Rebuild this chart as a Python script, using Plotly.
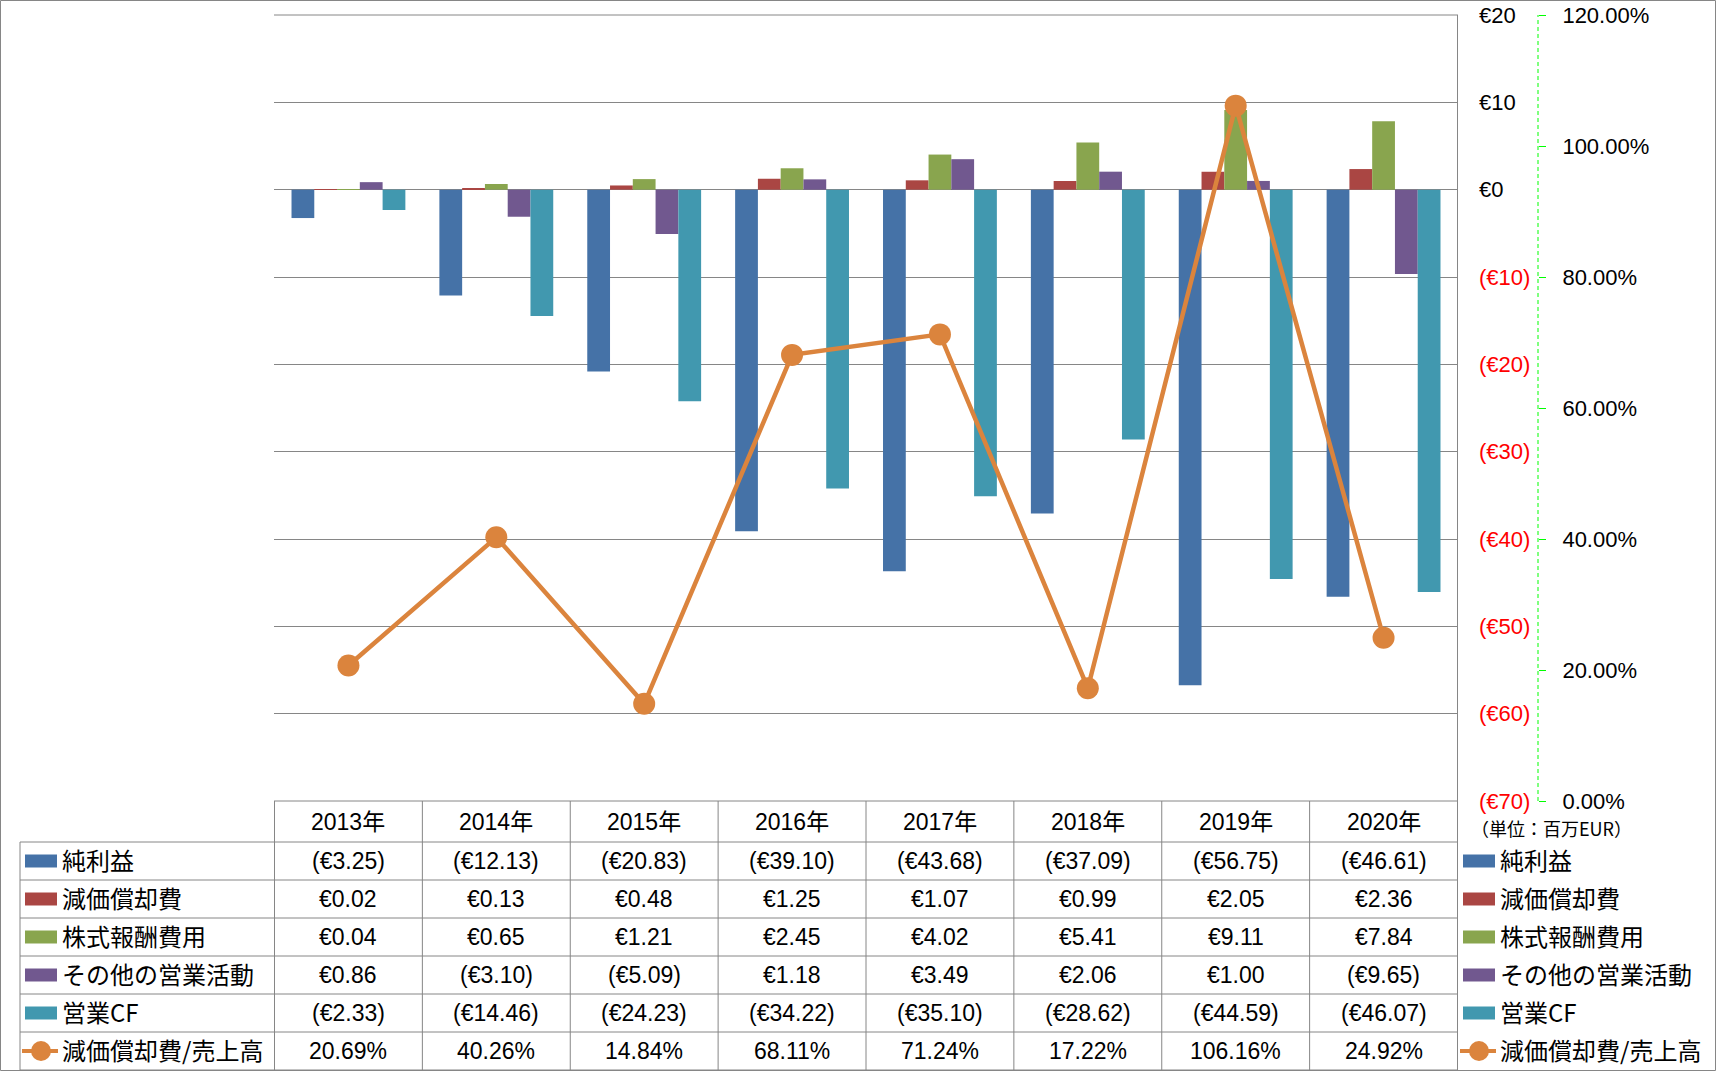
import plotly.graph_objects as go

# ---------------- data ----------------
years = ["2013年", "2014年", "2015年", "2016年", "2017年", "2018年", "2019年", "2020年"]
series_names = ["純利益", "減価償却費", "株式報酬費用", "その他の営業活動", "営業CF"]
net_income = [-3.25, -12.13, -20.83, -39.10, -43.68, -37.09, -56.75, -46.61]
depreciation = [0.02, 0.13, 0.48, 1.25, 1.07, 0.99, 2.05, 2.36]
stock_comp = [0.04, 0.65, 1.21, 2.45, 4.02, 5.41, 9.11, 7.84]
other_ops = [0.86, -3.10, -5.09, 1.18, 3.49, 2.06, 1.00, -9.65]
op_cf = [-2.33, -14.46, -24.23, -34.22, -35.10, -28.62, -44.59, -46.07]
line_name = "減価償却費/売上高"
dep_ratio_pct = [20.69, 40.26, 14.84, 68.11, 71.24, 17.22, 106.16, 24.92]
left_ticks = [20, 10, 0, -10, -20, -30, -40, -50, -60, -70]
unit_label = "（単位：百万EUR）"

# ---------------- style ----------------
W, H = 1716, 1071
colors = ["#4572A7", "#AA4643", "#89A54E", "#71588F", "#4198AF"]
line_color = "#DB843D"
grid_gray = "#868686"
lime = "#00FF00"
num_font = "Liberation Sans, Noto Sans CJK JP"
jp_font = "Noto Sans CJK JP"

def px_x(v):
    return v / W

def px_y(v):
    return 1 - v / H

plot_left, plot_right, plot_top, plot_bottom = 274, 1458, 15, 801
header_h, row_h = 41, 38
table_left = 20
axis2_x = 1538

bar_series = [net_income, depreciation, stock_comp, other_ops, op_cf]

fig = go.Figure()
for name, vals, c in zip(series_names, bar_series, colors):
    fig.add_trace(go.Bar(x=years, y=vals, name=name, marker=dict(color=c, line=dict(width=0)),
                         yaxis="y"))
fig.add_trace(go.Scatter(x=years, y=[v / 100 for v in dep_ratio_pct], name=line_name, yaxis="y2",
                         mode="lines+markers",
                         line=dict(color=line_color, width=4.5),
                         marker=dict(size=22, color=line_color)))

def eur(v):
    s = "€{:.2f}".format(abs(v))
    return "(" + s + ")" if v < 0 else s

def eur_tick(v):
    s = "€{:d}".format(abs(int(v)))
    return "<span style='color:red'>(" + s + ")</span>" if v < 0 else s

shapes = []
annotations = []

# outer frame
shapes.append(dict(type="rect", xref="paper", yref="paper", x0=px_x(0.5), x1=px_x(W - 0.5),
                   y0=px_y(H - 0.5), y1=px_y(0.5), line=dict(color=grid_gray, width=1), layer="above"))

# plot top & bottom border lines (edge gridlines)
for yy in (plot_top, plot_bottom):
    shapes.append(dict(type="line", xref="paper", yref="paper", x0=px_x(plot_left), x1=px_x(plot_right),
                       y0=px_y(yy), y1=px_y(yy), line=dict(color=grid_gray, width=1)))

# secondary axis dashed line
shapes.append(dict(type="line", xref="paper", yref="paper", x0=px_x(axis2_x), x1=px_x(axis2_x),
                   y0=px_y(plot_bottom), y1=px_y(plot_top),
                   line=dict(color=lime, width=1, dash="4px,3px")))

# table geometry
row_tops = [plot_bottom + header_h + row_h * i for i in range(len(series_names) + 2)]
table_bottom = row_tops[-1]
for i, yy in enumerate(row_tops):
    shapes.append(dict(type="line", xref="paper", yref="paper", x0=px_x(table_left), x1=px_x(plot_right),
                       y0=px_y(yy), y1=px_y(yy), line=dict(color=grid_gray, width=1)))
shapes.append(dict(type="line", xref="paper", yref="paper", x0=px_x(table_left), x1=px_x(table_left),
                   y0=px_y(row_tops[0]), y1=px_y(table_bottom), line=dict(color=grid_gray, width=1)))
for i in range(len(years) + 1):
    top = plot_top if i == len(years) else plot_bottom
    shapes.append(dict(type="line", xref="x", yref="paper", x0=i - 0.5, x1=i - 0.5,
                       y0=px_y(top), y1=px_y(table_bottom), line=dict(color=grid_gray, width=1)))

# header years
for yr in years:
    annotations.append(dict(x=yr, xref="x", y=px_y(plot_bottom + header_h / 2), yref="paper",
                            text=yr, showarrow=False, xanchor="center", yanchor="middle",
                            font=dict(family=num_font, size=23, color="black")))

row_names = series_names + [line_name]
row_values = [[eur(v) for v in s] for s in bar_series] + [["{:.2f}%".format(v) for v in dep_ratio_pct]]
row_colors = colors + [line_color]

for r, (nm, vals, c) in enumerate(zip(row_names, row_values, row_colors)):
    cy = row_tops[r] + row_h / 2
    for yr, t in zip(years, vals):
        annotations.append(dict(x=yr, xref="x", y=px_y(cy), yref="paper", text=t, showarrow=False,
                                xanchor="center", yanchor="middle",
                                font=dict(family=num_font, size=23, color="black")))
    for sx, tx in ((25, 60), (1463, 1498)):
        if r < len(series_names):
            shapes.append(dict(type="rect", xref="paper", yref="paper", x0=px_x(sx), x1=px_x(sx + 32),
                               y0=px_y(cy + 6.5), y1=px_y(cy - 6.5), fillcolor=c, line=dict(width=0)))
        else:
            shapes.append(dict(type="line", xref="paper", yref="paper", x0=px_x(sx - 3), x1=px_x(sx + 33),
                               y0=px_y(cy), y1=px_y(cy), line=dict(color=c, width=4)))
            shapes.append(dict(type="circle", xref="paper", yref="paper", x0=px_x(sx + 6), x1=px_x(sx + 26),
                               y0=px_y(cy + 10), y1=px_y(cy - 10), fillcolor=c, line=dict(width=0)))
        annotations.append(dict(x=px_x(tx), xref="paper", y=px_y(cy - 1.5), yref="paper", text=nm,
                                showarrow=False, xanchor="left", yanchor="middle",
                                font=dict(family=jp_font, size=24, color="black")))

annotations.append(dict(x=px_x(1551), xref="paper", y=px_y(828), yref="paper", text=unit_label,
                        showarrow=False, xanchor="center", yanchor="middle",
                        font=dict(family=jp_font, size=18, color="black")))

fig.update_layout(
    width=W, height=H,
    margin=dict(l=0, r=0, t=0, b=0, pad=0),
    paper_bgcolor="white", plot_bgcolor="white",
    showlegend=False,
    barmode="group", bargap=0.23, bargroupgap=0,
    xaxis=dict(domain=[px_x(plot_left), px_x(plot_right)], showticklabels=False, showgrid=False,
               zeroline=False, showline=False, ticks="", automargin=False),
    yaxis=dict(domain=[px_y(plot_bottom), px_y(plot_top)], range=[-70, 20], side="right",
               tickmode="array", tickvals=left_ticks, ticktext=[eur_tick(v) for v in left_ticks],
               showgrid=True, gridcolor=grid_gray, gridwidth=1, zeroline=False, showline=False,
               ticks="", ticklabelstandoff=20, automargin=False,
               tickfont=dict(family=num_font, size=22, color="black")),
    yaxis2=dict(overlaying="y", anchor="free", position=px_x(axis2_x), side="right", range=[0, 1.2],
                tickmode="linear", tick0=0, dtick=0.2, tickformat=".2%", showgrid=False,
                zeroline=False, showline=False, ticks="outside", ticklen=7, tickcolor=lime, tickwidth=1,
                ticklabelstandoff=12, automargin=False,
                tickfont=dict(family=num_font, size=22, color="black")),
    yaxis3=dict(overlaying="y", anchor="x", range=[0, 1.2], tickmode="linear", tick0=0.2, dtick=0.4,
                showgrid=True, gridcolor=lime, gridwidth=1, griddash="4px,3px", automargin=False,
                showticklabels=False, ticks="", zeroline=False, showline=False),
    shapes=shapes,
    annotations=annotations,
)

fig.write_html("out.html", config={"displayModeBar": False},
               post_script="document.body.style.margin='0';document.body.style.overflow='hidden';")
